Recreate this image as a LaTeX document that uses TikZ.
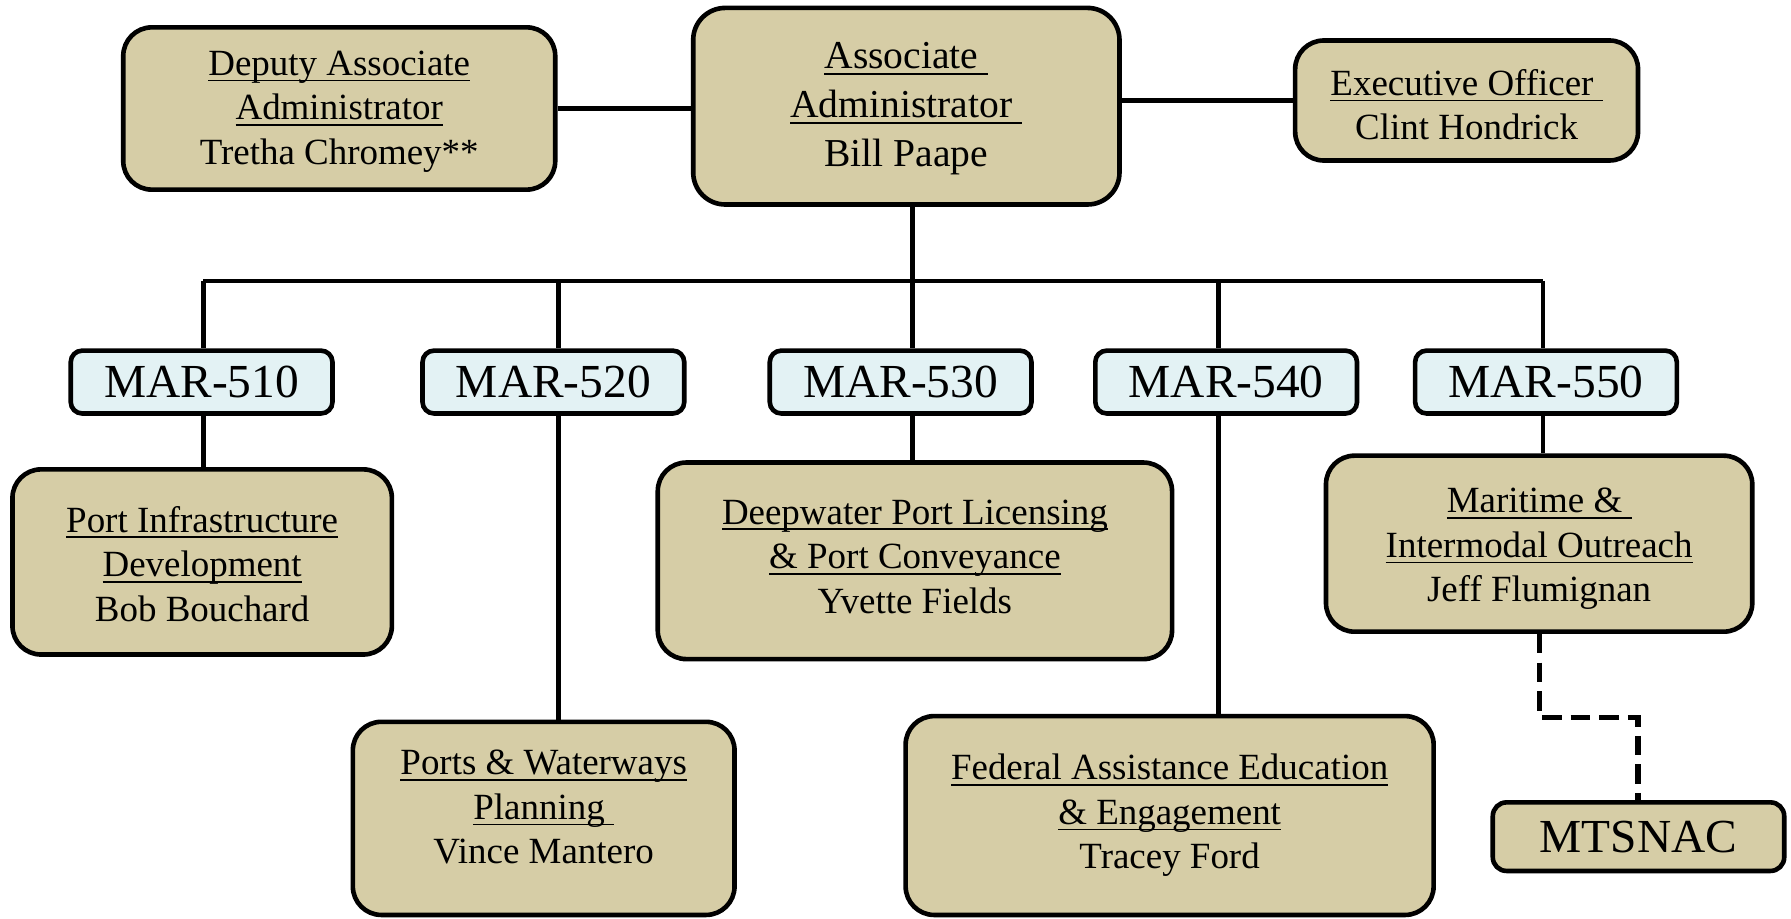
\documentclass[tikz,border=0pt]{standalone}
\usepackage{fontspec}
\setmainfont{Liberation Serif}
\newcommand\ulx[1]{\setbox0\hbox{#1}\rlap{\rule[-1.5pt]{\wd0}{0.4pt}}\box0}
\newcommand\txs[2]{\raisebox{0pt}[\dimexpr\height-(#1)\relax][\dimexpr\depth+(#1)\relax]{\begin{tabular}{@{}c@{}}#2\end{tabular}}}
\definecolor{boxtan}{HTML}{D6CDA6}
\definecolor{marcyan}{HTML}{E3F2F4}
\begin{document}
\begin{tikzpicture}[x=0.01cm,y=-0.01cm,
  box/.style={draw=black,line width=1.15pt,fill=boxtan,rounded corners=0.25cm,align=center,inner sep=0pt,font=\fontsize{9.2}{11.1}\selectfont},
  marbox/.style={draw=black,line width=1.15pt,fill=marcyan,rounded corners=0.1cm,inner sep=0pt,minimum width=2.29cm,minimum height=0.55cm,font=\fontsize{11.8}{13}\selectfont},
  conn/.style={line width=1.15pt},
  dashconn/.style={line width=1.3pt,dash pattern=on 0.17cm off 0.08cm}]
\useasboundingbox (0,0) rectangle (1568,804);

% top row
\node[box,minimum width=3.78cm,minimum height=1.42cm] (dep) at (297,95) {\txs{-0.02cm}{\ulx{Deputy Associate}\\\ulx{Administrator}\\Tretha Chromey**}};
\node[box,rounded corners=0.28cm,minimum width=3.73cm,minimum height=1.72cm,font=\fontsize{9.85}{12.2}\selectfont] (assoc) at (793.5,93) {\txs{-0.015cm}{\ulx{Associate\ }\\\ulx{Administrator\ }\\Bill Paape}};
\node[box,minimum width=3.0cm,minimum height=1.05cm] (exec) at (1284,88) {\txs{-0.07cm}{\ulx{Executive Officer\ }\\Clint Hondrick}};

% MAR row
\node[marbox] (m1) at (176.5,334.5) {MAR-510};
\node[marbox] (m2) at (484.5,334.5) {MAR-520};
\node[marbox] (m3) at (788.5,334.5) {MAR-530};
\node[marbox] (m4) at (1073.5,334.5) {MAR-540};
\node[marbox] (m5) at (1353.5,334.5) {MAR-550};

% offices
\node[box,minimum width=3.32cm,minimum height=1.62cm] (pid) at (177,492) {\txs{-0.05cm}{\ulx{Port Infrastructure}\\\ulx{Development}\\Bob Bouchard}};
\node[box,minimum width=3.34cm,minimum height=1.69cm] (pwp) at (476,716.5) {\txs{0.07cm}{\ulx{Ports \& Waterways}\\\ulx{Planning\ }\\Vince Mantero}};
\node[box,minimum width=4.5cm,minimum height=1.72cm] (dpl) at (801,491) {\txs{0.01cm}{\ulx{Deepwater Port Licensing}\\\ulx{\& Port Conveyance}\\Yvette Fields}};
\node[box,minimum width=4.62cm,minimum height=1.74cm] (fae) at (1024,714) {\ulx{Federal Assistance Education}\\\ulx{\& Engagement}\\Tracey Ford};
\node[box,minimum width=3.73cm,minimum height=1.54cm] (mio) at (1347.5,476) {\txs{-0.04cm}{\ulx{Maritime \&\ }\\\ulx{Intermodal Outreach}\\Jeff Flumignan}};
\node[box,rounded corners=0.12cm,minimum width=2.55cm,minimum height=0.6cm,font=\fontsize{11.8}{13}\selectfont] (mts) at (1434.5,732.5) {MTSNAC};

% bus coordinates
\coordinate (c1) at (178,246);
\coordinate (c2) at (489,246);
\coordinate (c3) at (799,246);
\coordinate (c4) at (1067,246);
\coordinate (c5) at (1351,246);
\coordinate (dk) at (1348,628);
\coordinate (dr) at (1434,628);

\draw[conn] (dep.east) -- (dep.east -| assoc.west);
\draw[conn] (exec.west -| assoc.east) -- (exec.west);
\draw[conn] (assoc.south -| c3) -- (c3);
\draw[conn] (c1) -- (c5);
\draw[conn] (c1) -- (c1 |- m1.north);
\draw[conn] (c2) -- (c2 |- m2.north);
\draw[conn] (c3) -- (c3 |- m3.north);
\draw[conn] (c4) -- (c4 |- m4.north);
\draw[conn] (c5) -- (c5 |- m5.north);
\draw[conn] (c1 |- m1.south) -- (c1 |- pid.north);
\draw[conn] (c2 |- m2.south) -- (c2 |- pwp.north);
\draw[conn] (c3 |- m3.south) -- (c3 |- dpl.north);
\draw[conn] (c4 |- m4.south) -- (c4 |- fae.north);
\draw[conn] (c5 |- m5.south) -- (c5 |- mio.north);
\draw[dashconn] (dk |- mio.south) -- (dk) -- (dr) -- (dr |- mts.north);
\end{tikzpicture}
\end{document}
